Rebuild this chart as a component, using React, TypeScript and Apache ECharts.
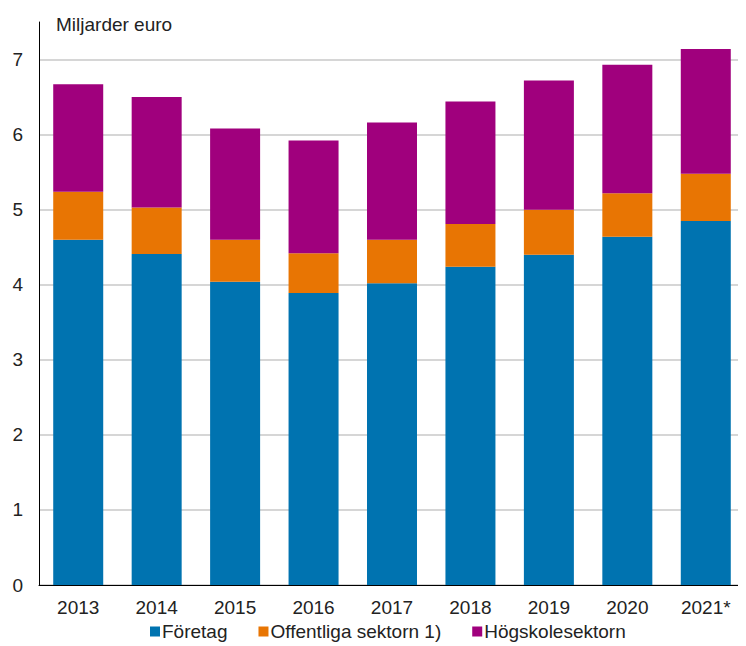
import React, { useEffect, useRef } from "react";
import * as echarts from "echarts";

const years = ["2013", "2014", "2015", "2016", "2017", "2018", "2019", "2020", "2021*"];
const foretag = [4.6, 4.41, 4.04, 3.89, 4.02, 4.24, 4.4, 4.64, 4.85];
const offentliga = [0.64, 0.62, 0.56, 0.53, 0.58, 0.57, 0.6, 0.58, 0.63];
const hogskole = [1.43, 1.47, 1.48, 1.5, 1.56, 1.63, 1.72, 1.71, 1.66];
const seriesNames = ["Företag", "Offentliga sektorn 1)", "Högskolesektorn"];
const colors = ["#0073b0", "#e87503", "#a0007d"];
const unitLabel = "Miljarder euro";

export default function App() {
  const ref = useRef<HTMLDivElement>(null);
  useEffect(() => {
    if (!ref.current) return;
    const chart = echarts.init(ref.current, null, { renderer: "svg" });
    const font = "'Liberation Sans', Arial, sans-serif";
    const data = [foretag, offentliga, hogskole];
    chart.setOption({
      animation: false,
      textStyle: { fontFamily: font },
      title: {
        text: unitLabel,
        left: 51,
        top: 10,
        textStyle: { fontFamily: font, fontSize: 19, fontWeight: "normal", color: "#222" },
      },
      legend: {
        bottom: 0,
        left: 145,
        itemWidth: 10,
        itemHeight: 10,
        itemGap: 31,
        icon: "rect",
        textStyle: { fontFamily: font, fontSize: 19, color: "#222", padding: [0, 0, 0, -3] },
        data: seriesNames,
      },
      grid: { left: 39, right: 1, top: 22, bottom: 61, containLabel: false },
      xAxis: {
        type: "category",
        data: years,
        axisLine: { show: true, lineStyle: { color: "#000", width: 1 } },
        axisTick: { show: false },
        axisLabel: { fontFamily: font, fontSize: 19, color: "#222", margin: 13 },
      },
      yAxis: {
        type: "value",
        min: 0,
        max: 7.5,
        interval: 1,
        axisLine: { show: true, lineStyle: { color: "#000", width: 1 } },
        axisTick: { show: false },
        axisLabel: { fontFamily: font, fontSize: 19, color: "#222", margin: 16, showMaxLabel: false },
        splitLine: { show: true, showMaxLine: false, lineStyle: { color: "#c8c8c8", width: 1.5 } },
      },
      series: seriesNames.map((name, i) => ({
        name,
        type: "bar",
        stack: "total",
        barWidth: 50,
        data: data[i],
        itemStyle: { color: colors[i] },
      })),
    });
    return () => chart.dispose();
  }, []);
  return <div ref={ref} style={{ width: 746, height: 646, marginLeft: -8, marginTop: -8 }} />;
}
